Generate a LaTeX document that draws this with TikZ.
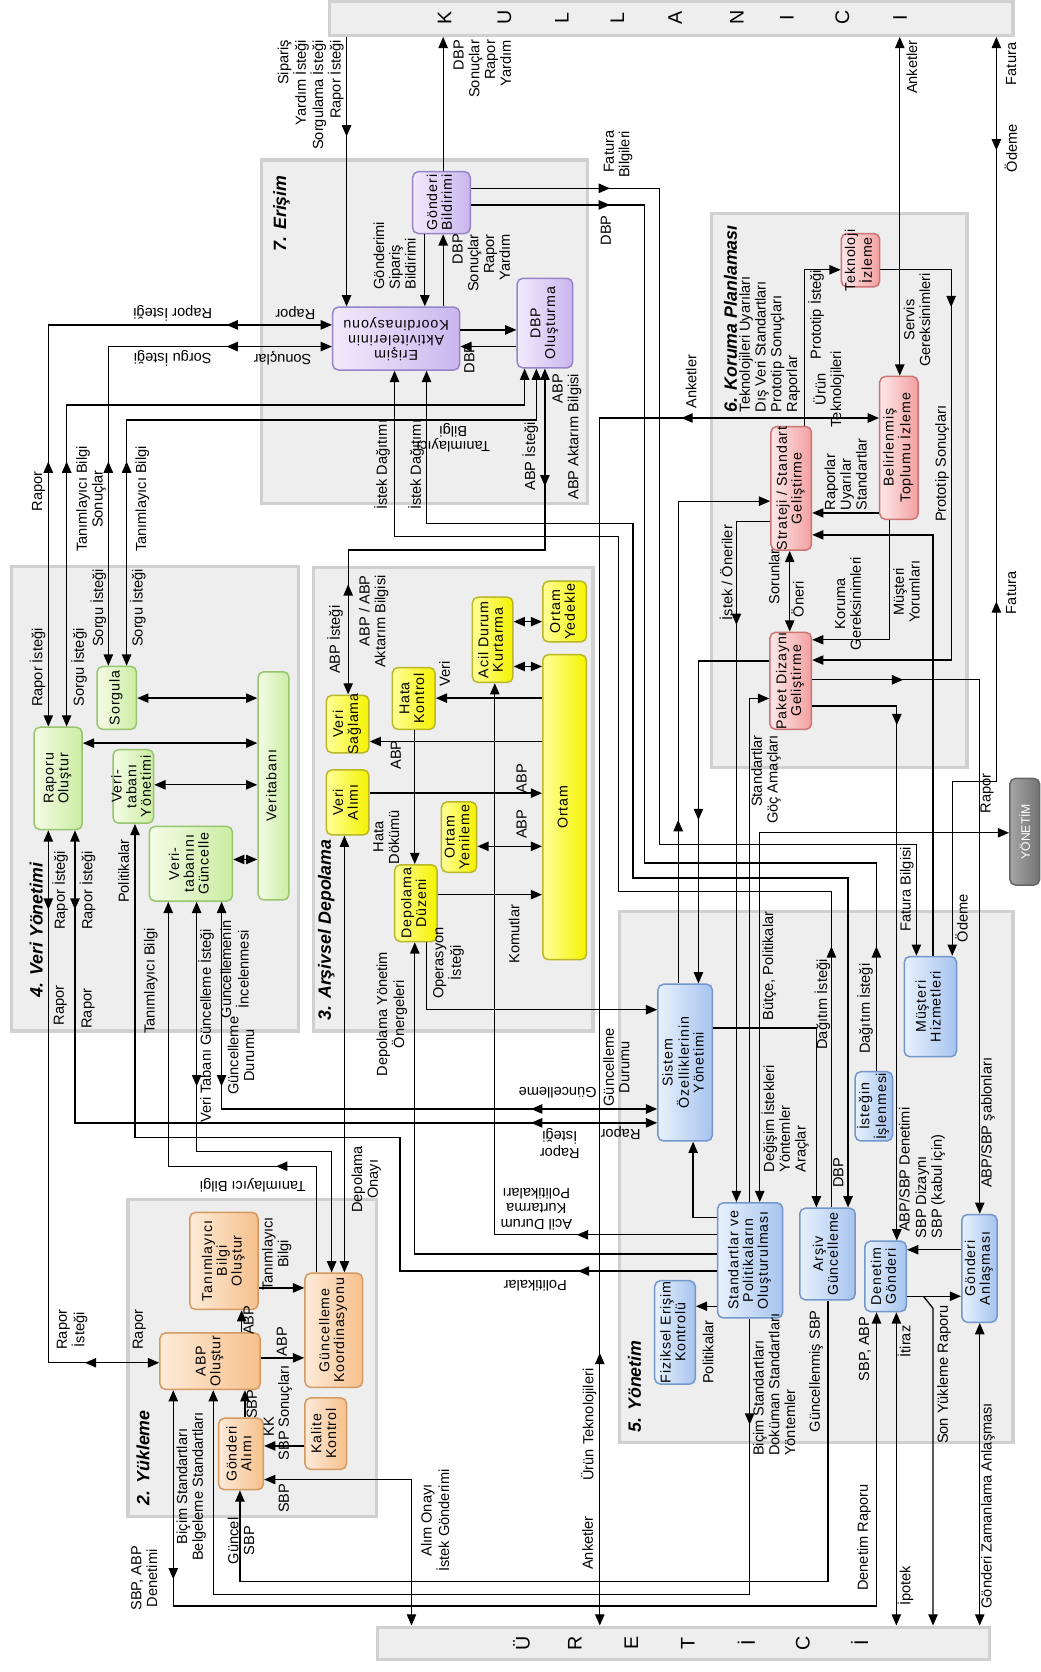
\documentclass[tikz,border=0pt]{standalone}
\usepackage{fontspec}
\setmainfont{Liberation Sans}
\usepackage{graphicx}
\usetikzlibrary{arrows.meta,fit}

\definecolor{panelfill}{HTML}{EEEEEE}
\definecolor{panelline}{HTML}{D0D0D0}
\definecolor{plight}{HTML}{F1EBFC}
\definecolor{pdark}{HTML}{C9B6EE}
\definecolor{pline}{HTML}{9684C9}
\definecolor{rlight}{HTML}{FDE8E8}
\definecolor{rdark}{HTML}{F3A0A0}
\definecolor{rline}{HTML}{CD7474}
\definecolor{glight}{HTML}{F4FCE6}
\definecolor{gdark}{HTML}{CBEDA2}
\definecolor{gline}{HTML}{97C46E}
\definecolor{ylight}{HTML}{FFFF99}
\definecolor{ydark}{HTML}{F5F200}
\definecolor{yline}{HTML}{B9B726}
\definecolor{olight}{HTML}{FDEBD9}
\definecolor{odark}{HTML}{F6C08C}
\definecolor{oline}{HTML}{D49A62}
\definecolor{blight}{HTML}{E8F1FD}
\definecolor{bdark}{HTML}{A6C4EF}
\definecolor{bline}{HTML}{7397CB}

\newcommand{\lbf}{\fontsize{7.8}{8.4}\selectfont}
\newcommand{\bxf}{\fontsize{7.6}{7.8}\selectfont\addfontfeatures{LetterSpace=6}}
\newcommand{\ttlf}{\fontsize{9.5}{11}\selectfont\bfseries\itshape}
\newcommand{\barf}{\fontsize{10.5}{12}\selectfont}

% rotated text blocks
\newcommand{\Rup}[1]{\rotatebox{90}{\begin{tabular}{@{}c@{}}#1\end{tabular}}}
\newcommand{\RupL}[1]{\rotatebox{90}{\begin{tabular}{@{}l@{}}#1\end{tabular}}}
\newcommand{\RupR}[1]{\rotatebox{90}{\begin{tabular}{@{}r@{}}#1\end{tabular}}}
\newcommand{\Rflip}[1]{\rotatebox{180}{\begin{tabular}{@{}c@{}}#1\end{tabular}}}

% a process box: style, corners, name, text
\newcommand{\procbox}[4]{\node[#1,fit={#2}] (#3) {};
  \node[font=\bxf,inner sep=0pt] at (#3.center) {#4};}

% arrowheads placed in the middle of a line
\newcommand{\aR}[2]{\draw[->] (#1-3,#2) -- (#1,#2);}
\newcommand{\aL}[2]{\draw[->] (#1+3,#2) -- (#1,#2);}
\newcommand{\aU}[2]{\draw[->] (#1,#2+3) -- (#1,#2);}
\newcommand{\aD}[2]{\draw[->] (#1,#2-3) -- (#1,#2);}

\begin{document}
\begin{tikzpicture}[x=0.02cm,y=-0.02cm,line width=0.7pt,
  >={Triangle[length=6pt,width=5pt]},
  panel/.style={fill=panelfill,draw=panelline,line width=1.8pt},
  barst/.style={fill=panelfill,draw=panelline,line width=1.8pt,inner sep=0pt},
  bx/.style={rounded corners=3pt,line width=0.8pt,inner sep=0pt},
  pbx/.style={bx,draw=pline,left color=plight,right color=pdark},
  rbx/.style={bx,draw=rline,left color=rlight,right color=rdark},
  gbx/.style={bx,draw=gline,left color=glight,right color=gdark},
  ybx/.style={bx,draw=yline,left color=ylight,right color=ydark},
  obx/.style={bx,draw=oline,left color=olight,right color=odark},
  bbx/.style={bx,draw=bline,left color=blight,right color=bdark},
  lb/.style={inner sep=0pt,font=\lbf},
  ttl/.style={inner sep=0pt,font=\ttlf}]

\path[use as bounding box] (0,0) rectangle (976,1568);
\fill[white] (0,0) rectangle (976,1568);

% ---------- panels ----------
\draw[panel] (245,150) rectangle (551,472);
\draw[panel] (667,200) rectangle (907,720);
\draw[panel] (11,531) rectangle (280,967);
\draw[panel] (294,532) rectangle (556,967);
\draw[panel] (120,1125) rectangle (353,1422);
\draw[panel] (581,855) rectangle (950,1353);

% ---------- actor bars ----------
\node[barst,fit={(309,1)(950,33)}] (KUL) {};
\node[barst,fit={(354,1526)(928,1556)}] (URE) {};
\foreach \x/\ltr in {417/K,473/U,527/L,579/L,633/A,691/N,738/I,790/C,844/I}
  \node[font=\barf,text=black,inner sep=0pt] at (\x,16.5) {\rotatebox{90}{\ltr}};
\foreach \x/\ltr in {489/Ü,539/R,592/E,645/T,700/İ,753/C,806/İ}
  \node[font=\barf,text=black,inner sep=0pt] at (\x,1541) {\rotatebox{90}{\ltr}};

\node[bx,draw=black!60,left color=black!35,right color=black!55,fit={(947,730)(975,830)}] (YON) {};
\node[text=white,font=\fontsize{6.5}{7}\selectfont,inner sep=0pt] at (YON.center) {\rotatebox{90}{YÖNETİM}};

% ---------- 7. Erişim ----------
\procbox{pbx}{(312,288)(431,347)}{EAK}{\Rflip{Erişim\\Aktivitelerinin\\Koordinasyonu}}
\procbox{pbx}{(387,161)(441,219)}{GB}{\Rup{Gönderi\\Bildirimi}}
\procbox{pbx}{(485,261)(537,345)}{DBPO}{\Rup{DBP\\Oluşturma}}

% ---------- 6. Koruma Planlaması ----------
\procbox{rbx}{(789,219)(825,269)}{TI}{\Rup{Teknoloji\\İzleme}}
\procbox{rbx}{(825,353)(861,487)}{BTI}{\Rup{Belirlenmiş\\Toplumu İzleme}}
\procbox{rbx}{(723,400)(761,516)}{SSG}{\Rup{Strateji / Standart\\Geliştirme}}
\procbox{rbx}{(722,593)(761,684)}{PDG}{\Rup{Paket Dizaynı\\Geliştirme}}

% ---------- 4. Veri Yönetimi ----------
\procbox{gbx}{(32,682)(77,778)}{RO}{\Rup{Raporu\\Oluştur}}
\procbox{gbx}{(91,625)(128,684)}{SOR}{\Rup{Sorgula}}
\procbox{gbx}{(106,703)(144,772)}{VTY}{\Rup{Veri-\\tabanı\\Yönetimi}}
\procbox{gbx}{(140,775)(218,845)}{VTG}{\Rup{Veri-\\tabanını\\Güncelle}}
\procbox{gbx}{(242,630)(271,844)}{VT}{\Rup{Veritabanı}}

% ---------- 3. Arşivsel Depolama ----------
\procbox{ybx}{(306,652)(346,706)}{VS}{\Rup{Veri\\Sağlama}}
\procbox{ybx}{(306,722)(346,783)}{VA}{\Rup{Veri\\Alımı}}
\procbox{ybx}{(368,626)(408,684)}{HK}{\Rup{Hata\\Kontrol}}
\procbox{ybx}{(443,560)(481,640)}{ADK}{\Rup{Acil Durum\\Kurtarma}}
\procbox{ybx}{(509,545)(550,602)}{OYD}{\Rup{Ortam\\Yedekle}}
\procbox{ybx}{(509,614)(550,900)}{ORT}{\Rup{Ortam}}
\procbox{ybx}{(414,752)(447,818)}{OYN}{\Rup{Ortam\\Yenileme}}
\procbox{ybx}{(370,811)(410,883)}{DD}{\Rup{Depolama\\Düzeni}}

% ---------- 2. Yükleme ----------
\procbox{obx}{(150,1250)(244,1303)}{ABPO}{\Rup{ABP\\Oluştur}}
\procbox{obx}{(178,1137)(242,1228)}{TBO}{\Rup{Tanımlayıcı\\Bilgi\\Oluştur}}
\procbox{obx}{(286,1194)(340,1301)}{GK}{\Rup{Güncelleme\\Koordinasyonu}}
\procbox{obx}{(205,1330)(247,1397)}{GA}{\Rup{Gönderi\\Alımı}}
\procbox{obx}{(286,1311)(325,1378)}{KK}{\Rup{Kalite\\Kontrol}}

% ---------- 5. Yönetim ----------
\procbox{bbx}{(617,923)(668,1070)}{SOY}{\Rup{Sistem\\Özelliklerinin\\Yönetimi}}
\procbox{bbx}{(673,1128)(734,1236)}{SPO}{\Rup{Standartlar ve\\Politikaların\\Oluşturulması}}
\procbox{bbx}{(750,1133)(802,1219)}{AG}{\Rup{Arşiv\\Güncelleme}}
\procbox{bbx}{(811,1164)(850,1230)}{DG}{\Rup{Denetim\\Gönderi}}
\procbox{bbx}{(902,1139)(935,1240)}{GAN}{\Rup{Gönderi\\Anlaşması}}
\procbox{bbx}{(848,897)(897,991)}{MH}{\Rup{Müşteri\\Hizmetleri}}
\procbox{bbx}{(802,1005)(837,1070)}{II}{\Rup{İsteğin\\İşlenmesi}}
\procbox{bbx}{(614,1201)(652,1298)}{FEK}{\Rup{Fiziksel Erişim\\Kontrolü}}

% ================= connectors =================
% Kullanıcı <-> Erişim
\draw[->] (325,0 |- KUL.south) -- (325,0 |- EAK.north); \aD{325}{128}
\draw[->] (415.6,0 |- GB.north) -- (415.6,0 |- KUL.south);
\draw[->] (398.4,0 |- GB.south) -- (398.4,0 |- EAK.north);
\draw[->] (415.6,0 |- EAK.north) -- (415.6,0 |- GB.south);
\draw[->] (EAK.east |- 0,309.4) -- (DBPO.west |- 0,309.4);
\draw[->] (DBPO.west |- 0,325) -- (EAK.east |- 0,325);

% Gönderi Bildirimi -> Yönetim
\draw[->] (GB.east |- 0,176.6) -- (618.7,176.6) -- (618.7,792) -- (859.4,792) -- (859.4,0 |- MH.north); \aR{572}{176.6}
\draw (GB.east |- 0,192.2) -- (604.6,192.2) -- (604.6,809.4) -- (821.9,809.4) -- (821.9,0 |- II.north); \aR{572}{192.2} \aU{821.9}{887.5}

% Veri Yönetimi <-> Erişim
\draw[<->] (45.3,0 |- RO.north) -- (45.3,304.7) -- (EAK.west |- 0,304.7); \aU{45.3}{432.8} \aL{212.5}{304.7}
\draw[<->] (62.5,0 |- RO.north) -- (62.5,379.7) -- (492,379.7) -- (492,0 |- DBPO.south); \aU{62.5}{432.8}
\draw[<->] (101.6,0 |- SOR.north) -- (101.6,325) -- (EAK.west |- 0,325); \aU{101.6}{432.8} \aL{212.5}{325}
\draw[<->] (118.75,0 |- SOR.north) -- (118.75,393.8) -- (503,393.8) -- (503,0 |- DBPO.south); \aU{118.75}{432.8}

% Erişim <-> Arşivsel Depolama
\draw[<->] (511,0 |- DBPO.south) -- (511,515.7) -- (326.5,515.7) -- (326.5,0 |- VS.north); \aD{511}{456} \aU{326.5}{548}

% İstek dağıtımı
\draw[->] (779.7,0 |- AG.north) -- (779.7,836) -- (580,836) -- (580,503) -- (370,503) -- (370,0 |- EAK.south); \aU{779.7}{887.5}
\draw[<->] (795.3,0 |- AG.north) -- (795.3,823.4) -- (593.7,823.4) -- (593.7,490.7) -- (400,490.7) -- (400,0 |- EAK.south);

% Anketler, Fatura
\draw[<->] (843.8,0 |- KUL.south) -- (843.8,0 |- BTI.north);
\draw[<->] (BTI.west |- 0,392) -- (562.5,392) -- (562.5,0 |- URE.north); \aL{639}{392} \aU{562.5}{1268.8}
\draw[<->] (934.4,0 |- KUL.south) -- (934.4,733) -- (893,733) -- (893,0 |- MH.north); \aD{934.4}{141} \aU{934.4}{564}

% Koruma Planlaması
\draw[->] (754.7,0 |- SSG.north) -- (754.7,253) -- (TI.west |- 0,253);
\draw[->] (TI.east |- 0,253) -- (892,253) -- (892,619) -- (PDG.east |- 0,619); \aD{892}{288}
\draw[->] (BTI.west |- 0,481) -- (SSG.east |- 0,481);
\draw[->] (875,0 |- MH.north) -- (875,501.6) -- (SSG.east |- 0,501.6);
\draw[<->] (740.6,0 |- SSG.south) -- (740.6,0 |- PDG.north);
\draw[->] (834.4,0 |- BTI.south) -- (834.4,600) -- (PDG.east |- 0,600);
\draw[->] (636,0 |- SOY.north) -- (636,470) -- (SSG.west |- 0,470); \aU{636}{769}
\draw[->] (SSG.west |- 0,489) -- (690.6,489) -- (690.6,0 |- SPO.north); \aD{690.6}{586}
\draw[->] (PDG.west |- 0,620) -- (655,620) -- (655,0 |- SOY.north); \aD{655}{769}
\draw[->] (703,0 |- SPO.north) -- (703,655) -- (PDG.west |- 0,655);
\draw[->] (PDG.east |- 0,637.5) -- (918.8,637.5) -- (918.8,0 |- GAN.north); \aR{847}{637.5}
\draw[->] (PDG.east |- 0,662) -- (841,662) -- (841,0 |- DG.north); \aD{841}{680}

% Yönetim
\draw[<->] (712.5,0 |- SPO.north) -- (712.5,781) -- (YON.west |- 0,781);
\draw[->] (SOY.east |- 0,964) -- (765.6,964) -- (765.6,0 |- AG.north);
\draw[->] (SPO.west |- 0,1142) -- (650,1142) -- (650,0 |- SOY.south);
\draw[->] (SPO.west |- 0,1225) -- (FEK.east |- 0,1225);
\draw[->] (SPO.west |- 0,1158) -- (464,1158) -- (464,0 |- ADK.south); \aL{541}{1158}
\draw[->] (SPO.west |- 0,1176) -- (389,1176) -- (389,0 |- DD.south);
\draw[->] (SPO.west |- 0,1192) -- (375,1192) -- (375,1067) -- (126.6,1067) -- (126.6,0 |- VTY.south); \aL{542}{1192}
\draw[->] (400,0 |- DD.south) -- (400,946.9) -- (SOY.west |- 0,946.9);
\draw[->] (389,0 |- HK.south) -- (389,0 |- DD.north);

% Arşivsel Depolama
\draw[->] (ORT.west |- 0,654.7) -- (HK.east |- 0,654.7);
\draw[->] (ORT.west |- 0,695.4) -- (VS.east |- 0,695.4);
\draw[->] (VA.east |- 0,743.8) -- (ORT.west |- 0,743.8);
\draw[<->] (OYN.east |- 0,793.7) -- (ORT.west |- 0,793.7);
\draw[->] (DD.east |- 0,839) -- (ORT.west |- 0,839);
\draw[<->] (ADK.east |- 0,625) -- (ORT.west |- 0,625);
\draw[<->] (ADK.east |- 0,583) -- (OYD.west |- 0,583);

% Veri Yönetimi
\draw[<->] (SOR.east |- 0,654.7) -- (VT.west |- 0,654.7);
\draw[<->] (RO.east |- 0,696.9) -- (VT.west |- 0,696.9);
\draw[<->] (VTY.east |- 0,736) -- (VT.west |- 0,736);
\draw[<->] (VTG.east |- 0,806) -- (VT.west |- 0,806);

% Yükleme <-> Veri Yönetimi / Arşivsel Depolama
\draw[->] (297,0 |- GK.north) -- (297,1093.7) -- (157.8,1093.7) -- (157.8,0 |- VTG.south); \aL{259}{1093.7}
\draw[<->] (184.4,0 |- VTG.south) -- (184.4,1079.7) -- (311,1079.7) -- (311,0 |- GK.north); \aD{184.4}{1018.7}
\draw[<->] (323,0 |- VA.south) -- (323,0 |- GK.north);
\draw[<->] (207.8,0 |- VTG.south) -- (207.8,1040) -- (SOY.west |- 0,1040); \aD{207.8}{1018.7} \aL{498}{1040}
\draw[<->] (70.3,0 |- RO.south) -- (70.3,1053) -- (SOY.west |- 0,1053); \aD{70.3}{853} \aL{498}{1053}
\draw[<->] (45.3,0 |- RO.south) -- (45.3,1278) -- (ABPO.west |- 0,1278); \aD{45.3}{853} \aL{79.7}{1278}

% Yükleme
\draw[->] (226.6,0 |- ABPO.north) -- (226.6,0 |- TBO.south);
\draw[->] (ABPO.east |- 0,1273.4) -- (GK.west |- 0,1273.4);
\draw[->] (TBO.east |- 0,1207.8) -- (GK.west |- 0,1207.8);
\draw[->] (229.7,0 |- GA.north) -- (229.7,0 |- ABPO.south);
\draw[->] (KK.west |- 0,1356) -- (GA.east |- 0,1356);
\draw[<->] (GA.east |- 0,1387.5) -- (385.9,1387.5) -- (385.9,0 |- URE.north);

% Yönetim <-> Yükleme
\draw[->] (776.6,0 |- AG.south) -- (776.6,1483) -- (225,1483) -- (225,0 |- GA.south);
\draw[->] (703,0 |- SPO.south) -- (703,1495) -- (200,1495) -- (200,0 |- ABPO.south); \aD{703}{1336}
\draw[<->] (822,0 |- DG.south) -- (822,1506) -- (162.5,1506) -- (162.5,0 |- ABPO.south); \aD{162.5}{1481}

% Üretici
\draw[<->] (840.6,0 |- DG.south) -- (840.6,0 |- URE.north);
\draw[->] (DG.east |- 0,1215.6) -- (GAN.west |- 0,1215.6);
\coordinate (br) at (866,1215.6);
\draw[->] (br) -- (875,1227) -- (875,0 |- URE.north);
\draw[->] (GAN.west |- 0,1172) -- (DG.east |- 0,1172);
\draw[<->] (918.8,0 |- GAN.south) -- (918.8,0 |- URE.north);

% ================= labels =================
% top
\node[lb,anchor=north] at (292,37) {\RupR{Sipariş\\Yardım İsteği\\Sorgulama İsteği\\Rapor İsteği}};
\node[lb,anchor=north] at (454,37) {\RupR{DBP\\Sonuçlar\\Rapor\\Yardım}};
\node[lb,anchor=north] at (580,122) {\RupR{Fatura\\Bilgileri}};
\node[lb] at (570,216) {\Rup{DBP}};

% Erişim
\node[ttl] at (264,200) {\rotatebox{90}{7. Erişim}};
\node[lb] at (277,293) {\Rflip{Rapor}};
\node[lb] at (162,293) {\Rflip{Rapor İsteği}};
\node[lb] at (162,335) {\Rflip{Sorgu İsteği}};
\node[lb] at (265,335) {\Rflip{Sonuçlar}};
\node[lb,anchor=south] at (372,272) {\RupL{Gönderimi\\Sipariş\\Bildirimi}};
\node[lb,anchor=north] at (453,219) {\RupR{DBP\\Sonuçlar\\Rapor\\Yardım}};
\node[lb] at (442,336) {\Rup{DBP}};
\node[lb] at (425,410) {\Rflip{Tanımlayıcı\\Bilgi}};
\node[lb] at (359,436) {\Rup{İstek Dağıtımı}};
\node[lb] at (391,436) {\Rup{İstek Dağıtımı}};
\node[lb] at (498,428) {\Rup{ABP İsteği}};
\node[lb,anchor=north] at (532,350) {\RupR{ABP\\ABP Aktarım Bilgisi}};

% Koruma Planlaması
\node[ttl,anchor=south] at (685,387) {\rotatebox{90}{6. Koruma Planlaması}};
\node[lb,anchor=south] at (722.5,387) {\RupL{Teknolojileri Uyarıları\\Dış Veri Standartları\\Prototip Sonuçları\\Raporlar}};
\node[lb] at (766,295) {\Rup{Prototip İsteği}};
\node[lb] at (778,365) {\Rup{Ürün\\Teknolojileri}};
\node[lb] at (862,300) {\Rup{Servis\\Gereksinimleri}};
\node[lb,anchor=south] at (795,479) {\RupL{Raporlar\\Uyarılar\\Standartlar}};
\node[lb] at (683,537) {\Rup{İstek / Öneriler}};
\node[lb] at (728,541) {\Rup{Sorunlar}};
\node[lb] at (750,562) {\Rup{Öneri}};
\node[lb] at (797,566) {\Rup{Koruma\\Gereksinimleri}};
\node[lb] at (852,555) {\Rup{Müşteri\\Yorumları}};
\node[lb] at (884,435) {\Rup{Prototip Sonuçları}};
\node[lb,anchor=north] at (719,689) {\RupR{Standartlar\\Göç Amaçları}};
\node[lb] at (650,358) {\Rup{Anketler}};
\node[lb] at (857,63) {\Rup{Anketler}};
\node[lb] at (950,60) {\Rup{Fatura}};
\node[lb] at (950,139) {\Rup{Ödeme}};
\node[lb] at (950,556) {\Rup{Fatura}};
\node[lb] at (926,744) {\Rup{Rapor}};

% Yönetim
\node[ttl] at (595,1300) {\rotatebox{90}{5. Yönetim}};
\node[lb] at (722,906) {\Rup{Bütçe, Politikalar}};
\node[lb] at (772,942) {\Rup{Dağıtım İsteği}};
\node[lb] at (812,946) {\Rup{Dağıtım İsteği}};
\node[lb] at (788,1100) {\Rup{DBP}};
\node[lb] at (851,834) {\Rup{Fatura Bilgisi}};
\node[lb] at (904,861) {\Rup{Ödeme}};
\node[lb,anchor=south] at (737,1100) {\RupL{Değişim İstekleri\\Yöntemler\\Araçlar}};
\node[lb] at (850,1097) {\Rup{ABP/SBP Denetimi}};
\node[lb,anchor=south] at (873,1162) {\RupL{SBP Dizaynı\\SBP (kabul için)}};
\node[lb] at (927,1053) {\Rup{ABP/SBP şablonları}};
\node[lb] at (580,1001) {\Rup{Güncelleme\\Durumu}};
\node[lb] at (523,1023) {\Rflip{Güncelleme}};
\node[lb] at (525,1072) {\Rflip{Rapor\\İsteği}};
\node[lb] at (582,1062) {\Rflip{Rapor}};
\node[lb] at (503,1132) {\Rflip{Acil Durum\\Kurtarma\\Politikaları}};
\node[lb] at (502,1204) {\Rflip{Politikalar}};
\node[lb] at (666,1268) {\Rup{Politikalar}};
\node[lb,anchor=south] at (728,1366) {\RupL{Biçim Standartları\\Doküman Standartları\\Yöntemler}};
\node[lb] at (766,1286) {\Rup{Güncellenmiş SBP}};
\node[lb] at (812,1265) {\Rup{SBP, ABP}};
\node[lb] at (811,1442) {\Rup{Denetim Raporu}};
\node[lb] at (850,1258) {\Rup{İtiraz}};
\node[lb] at (850,1487) {\Rup{İpotek}};
\node[lb] at (886,1289) {\Rup{Son Yükleme Raporu}};
\node[lb] at (927,1412) {\Rup{Gönderi Zamanlama Anlaşması}};
\node[lb] at (421,903) {\Rup{Operasyon\\İsteği}};
\node[lb] at (368,951) {\Rup{Depolama Yönetim\\Önergeleri}};
\node[lb] at (344,1106) {\Rup{Depolama\\Onayı}};
\node[lb] at (237,1111) {\Rflip{Tanımlayıcı Bilgi}};
\node[lb] at (553,1336) {\Rup{Ürün Teknolojileri}};
\node[lb] at (553,1447) {\Rup{Anketler}};
\node[lb] at (410,1426) {\Rup{Alım Onayı\\İstek Gönderimi}};

% Arşivsel Depolama
\node[ttl] at (306,872) {\rotatebox{90}{3. Arşivsel Depolama}};
\node[lb] at (315,600) {\Rup{ABP İsteği}};
\node[lb,anchor=north] at (351,539) {\RupR{ABP / ABP\\Aktarım Bilgisi}};
\node[lb] at (419,632) {\Rup{Veri}};
\node[lb] at (373,708) {\Rup{ABP}};
\node[lb] at (364,785) {\Rup{Hata\\Dökümü}};
\node[lb] at (491,730) {\Rup{ABP}};
\node[lb] at (491,773) {\Rup{ABP}};
\node[lb] at (484,876) {\Rup{Komutlar}};

% Veri Yönetimi
\node[ttl] at (34,872) {\rotatebox{90}{4. Veri Yönetimi}};
\node[lb] at (36.5,461) {\Rup{Rapor}};
\node[lb] at (86,468) {\Rup{Tanımlayıcı Bilgi\\Sonuçlar}};
\node[lb] at (134,468) {\Rup{Tanımlayıcı Bilgi}};
\node[lb] at (36,626) {\Rup{Rapor İsteği}};
\node[lb] at (75,626) {\Rup{Sorgu İsteği}};
\node[lb] at (93,570) {\Rup{Sorgu İsteği}};
\node[lb] at (130,570) {\Rup{Sorgu İsteği}};
\node[lb] at (57,835) {\Rup{Rapor İsteği}};
\node[lb] at (83,835) {\Rup{Rapor İsteği}};
\node[lb] at (57,943) {\Rup{Rapor}};
\node[lb] at (83,946) {\Rup{Rapor}};
\node[lb] at (118,817) {\Rup{Politikalar}};
\node[lb] at (142,920) {\Rup{Tanımlayıcı Bilgi}};
\node[lb] at (194,962) {\Rup{Veri Tabanı Güncelleme İsteği}};
\node[lb] at (222,909) {\Rup{Güncellemenin\\İncelenmesi}};
\node[lb] at (228,990) {\Rup{Güncelleme\\Durumu}};

% Yükleme
\node[ttl] at (134,1367) {\rotatebox{90}{2. Yükleme}};
\node[lb] at (68,1247) {\Rup{Rapor\\İsteği}};
\node[lb] at (131,1247) {\Rup{Rapor}};
\node[lb] at (235,1238) {\Rup{ABP}};
\node[lb] at (266,1258) {\Rup{ABP}};
\node[lb] at (260,1176) {\Rup{Tanımlayıcı\\Bilgi}};
\node[lb] at (238,1317) {\Rup{SBP}};
\node[lb] at (254,1338) {\Rup{KK}};
\node[lb] at (268,1325) {\Rup{SBP Sonuçları}};
\node[lb] at (268,1405) {\Rup{SBP}};
\node[lb] at (180,1394) {\Rup{Biçim Standartları\\Belgeleme Standartları}};
\node[lb] at (228,1445) {\Rup{Güncel\\SBP}};
\node[lb] at (137,1480) {\Rup{SBP, ABP\\Denetimi}};

\end{tikzpicture}
\end{document}
